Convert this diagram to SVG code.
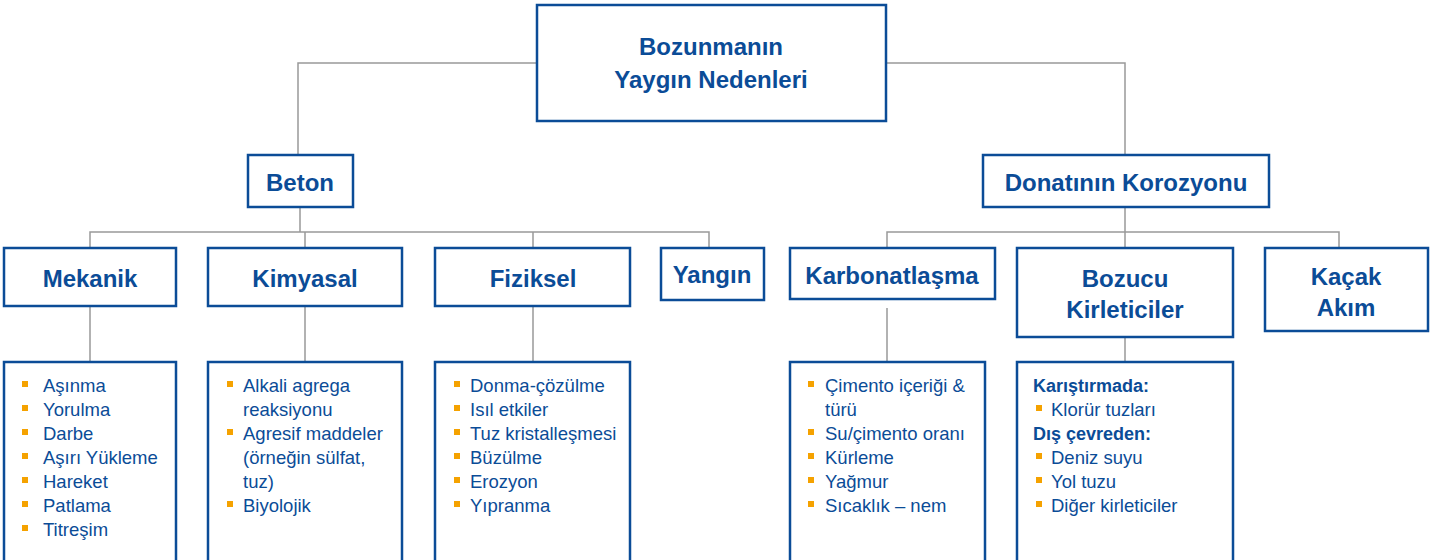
<svg xmlns="http://www.w3.org/2000/svg" width="1449" height="560" viewBox="0 0 1449 560">
<style>
.box{fill:#fff;stroke:#0b4c97;stroke-width:2.5}
.h{font-family:"Liberation Sans",Arial,sans-serif;font-weight:bold;font-size:24px;fill:#0b4c97;text-anchor:middle}
.t{font-family:"Liberation Sans",Arial,sans-serif;font-size:18.5px;fill:#0b4c97}
.b{font-family:"Liberation Sans",Arial,sans-serif;font-size:18px;font-weight:bold;fill:#0b4c97}
.bul{fill:#f5a200}
.c{fill:none;stroke:#999;stroke-width:1.5}
</style>
<rect width="1449" height="560" fill="#fff"/>
<g id="connectors">
<path class="c" d="M537 63H298V155M886 63H1125V155"/>
<path class="c" d="M300 207V232M90 248V232H709V248M305 232V248M533 232V248"/>
<path class="c" d="M1125 207V248M887 248V232H1339V248"/>
<path class="c" d="M90 306V362M305 306V362M533 306V362M887 308V362M1125 337V362"/>
</g>
<g id="root"><rect class="box" x="537" y="5" width="349" height="116"/><text class="h" x="711" y="55">Bozunmanın</text><text class="h" x="711" y="88">Yaygın Nedenleri</text></g>
<g id="beton"><rect class="box" x="248" y="155" width="105" height="52"/><text class="h" x="300" y="191">Beton</text></g>
<g id="donati"><rect class="box" x="983" y="155" width="286" height="52"/><text class="h" x="1126" y="191">Donatının Korozyonu</text></g>
<g id="mekanik"><rect class="box" x="4" y="248" width="172" height="58"/><text class="h" x="90" y="287">Mekanik</text></g>
<g id="kimyasal"><rect class="box" x="208" y="248" width="194" height="58"/><text class="h" x="305" y="287">Kimyasal</text></g>
<g id="fiziksel"><rect class="box" x="435" y="248" width="195" height="58"/><text class="h" x="533" y="287">Fiziksel</text></g>
<g id="yangin"><rect class="box" x="661" y="248" width="103" height="52"/><text class="h" x="712" y="283">Yangın</text></g>
<g id="karbonatlasma"><rect class="box" x="790" y="248" width="205" height="51"/><text class="h" x="892" y="284">Karbonatlaşma</text></g>
<g id="bozucu"><rect class="box" x="1017" y="248" width="216" height="89"/><text class="h" x="1125" y="287">Bozucu</text><text class="h" x="1125" y="318">Kirleticiler</text></g>
<g id="kacak"><rect class="box" x="1265" y="248" width="163" height="83"/><text class="h" x="1346" y="285">Kaçak</text><text class="h" x="1346" y="316">Akım</text></g>
<g id="mekanik-list"><rect class="box" x="4" y="362" width="172" height="210"/>
<g class="bul"><rect x="22" y="381" width="6" height="6"/><rect x="22" y="405" width="6" height="6"/><rect x="22" y="429" width="6" height="6"/><rect x="22" y="453" width="6" height="6"/><rect x="22" y="477" width="6" height="6"/><rect x="22" y="501" width="6" height="6"/><rect x="22" y="525" width="6" height="6"/></g>
<text class="t" x="43" y="392">Aşınma</text><text class="t" x="43" y="416">Yorulma</text><text class="t" x="43" y="440">Darbe</text><text class="t" x="43" y="464">Aşırı Yükleme</text><text class="t" x="43" y="488">Hareket</text><text class="t" x="43" y="512">Patlama</text><text class="t" x="43" y="536">Titreşim</text></g>
<g id="kimyasal-list"><rect class="box" x="208" y="362" width="194" height="210"/>
<g class="bul"><rect x="227" y="381" width="6" height="6"/><rect x="227" y="429" width="6" height="6"/><rect x="227" y="501" width="6" height="6"/></g>
<text class="t" x="243" y="392">Alkali agrega</text><text class="t" x="243" y="416">reaksiyonu</text><text class="t" x="243" y="440">Agresif maddeler</text><text class="t" x="243" y="464">(örneğin sülfat,</text><text class="t" x="243" y="488">tuz)</text><text class="t" x="243" y="512">Biyolojik</text></g>
<g id="fiziksel-list"><rect class="box" x="435" y="362" width="195" height="210"/>
<g class="bul"><rect x="454" y="381" width="6" height="6"/><rect x="454" y="405" width="6" height="6"/><rect x="454" y="429" width="6" height="6"/><rect x="454" y="453" width="6" height="6"/><rect x="454" y="477" width="6" height="6"/><rect x="454" y="501" width="6" height="6"/></g>
<text class="t" x="470" y="392">Donma-çözülme</text><text class="t" x="470" y="416">Isıl etkiler</text><text class="t" x="470" y="440">Tuz kristalleşmesi</text><text class="t" x="470" y="464">Büzülme</text><text class="t" x="470" y="488">Erozyon</text><text class="t" x="470" y="512">Yıpranma</text></g>
<g id="karbonatlasma-list"><rect class="box" x="790" y="362" width="195" height="210"/>
<g class="bul"><rect x="808" y="381" width="6" height="6"/><rect x="808" y="429" width="6" height="6"/><rect x="808" y="453" width="6" height="6"/><rect x="808" y="477" width="6" height="6"/><rect x="808" y="501" width="6" height="6"/></g>
<text class="t" x="825" y="392">Çimento içeriği &amp;</text><text class="t" x="825" y="416">türü</text><text class="t" x="825" y="440">Su/çimento oranı</text><text class="t" x="825" y="464">Kürleme</text><text class="t" x="825" y="488">Yağmur</text><text class="t" x="825" y="512">Sıcaklık – nem</text></g>
<g id="bozucu-list"><rect class="box" x="1017" y="362" width="216" height="210"/>
<g class="bul"><rect x="1036" y="405" width="6" height="6"/><rect x="1036" y="453" width="6" height="6"/><rect x="1036" y="477" width="6" height="6"/><rect x="1036" y="501" width="6" height="6"/></g>
<text class="b" x="1033" y="392">Karıştırmada:</text><text class="t" x="1051" y="416">Klorür tuzları</text><text class="b" x="1033" y="440">Dış çevreden:</text><text class="t" x="1051" y="464">Deniz suyu</text><text class="t" x="1051" y="488">Yol tuzu</text><text class="t" x="1051" y="512">Diğer kirleticiler</text></g>
</svg>
